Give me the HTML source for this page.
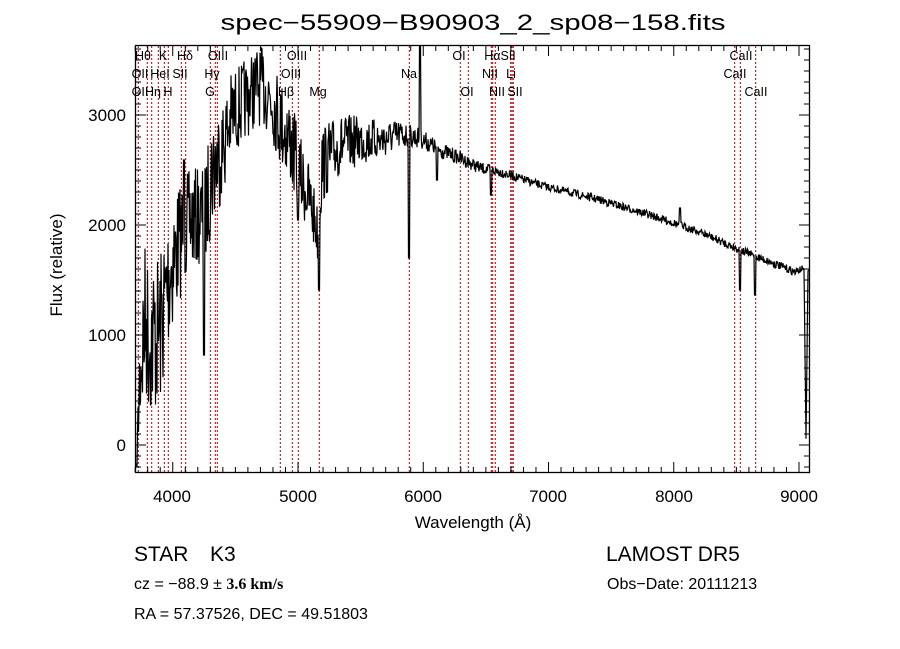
<!DOCTYPE html>
<html><head><meta charset="utf-8"><style>
html,body{margin:0;padding:0;background:#fff;}
svg{display:block;}
text{font-family:"Liberation Sans",sans-serif;fill:#000;}
</style></head><body>
<svg id="s" width="900" height="649" viewBox="0 0 900 649" xmlns="http://www.w3.org/2000/svg">
<rect width="900" height="649" fill="#fff"/>
<text x="473" y="30" font-size="22" text-anchor="middle" textLength="505" lengthAdjust="spacingAndGlyphs">spec−55909−B90903_2_sp08−158.fits</text>
<g id="red" stroke="#b00000" stroke-width="1" stroke-dasharray="2,2"></g>
<g id="lbl" font-size="12.5" text-anchor="middle"></g>
<path id="spec" fill="none" stroke="#000" stroke-width="1.2"/>
<rect x="135.5" y="45.5" width="674" height="427" fill="none" stroke="#000" stroke-width="1.3"/>
<g id="ticks" stroke="#000" stroke-width="1"></g>
<g font-size="17" text-anchor="middle">
<text x="172" y="502">4000</text><text x="298" y="502">5000</text><text x="423" y="502">6000</text>
<text x="548" y="502">7000</text><text x="674" y="502">8000</text><text x="799" y="502">9000</text>
</g>
<g font-size="17" text-anchor="end">
<text x="126" y="451">0</text><text x="126" y="341">1000</text><text x="126" y="231">2000</text><text x="126" y="121">3000</text>
</g>
<text x="473" y="528" font-size="17" text-anchor="middle">Wavelength (Å)</text>
<text transform="translate(62,265) rotate(-90)" font-size="17" text-anchor="middle">Flux (relative)</text>
<text x="134" y="561" font-size="21">STAR</text><text x="210" y="561" font-size="21">K3</text>
<text x="606" y="561" font-size="21">LAMOST DR5</text>
<text x="134" y="589" font-size="16">cz = −88.9 ± <tspan font-family="Liberation Serif" font-weight="bold">3.6 km/s</tspan></text>
<text x="607" y="589" font-size="16">Obs−Date: 20111213</text>
<text x="134" y="619" font-size="16">RA =  57.37526, DEC =  49.51803</text>
</svg>
<script>
var NS="http://www.w3.org/2000/svg";
function el(p,t,a,txt){var e=document.createElementNS(NS,t);for(var k in a)e.setAttribute(k,a[k]);if(txt)e.textContent=txt;document.getElementById(p).appendChild(e);}
var reds=[138.3,147.3,151.7,158.3,164.3,168.3,181.3,185.7,210.3,215.3,217.3,280.3,292.3,298.3,319.3,409.3,460.3,468.3,491.3,492.7,495.3,510.7,512,513.3,734.7,740.3,755.7];
reds.forEach(function(x){el("red","line",{x1:x,x2:x,y1:46,y2:472});});
var L=[["Hθ",143,60],["K",163,60],["Hδ",185,60],["OIII",218,60],["OIII",297,60],["OI",459,60],["HαSII",500,60],["CaII",741,60],
["OII",140,78],["HeI",160,78],["SII",180,78],["Hγ",212,78],["OIII",291,78],["Na",409,78],["NII",490,78],["Li",511,78],["CaII",735,78],
["OII",140,96],["Hη",153,96],["H",168,96],["G",210,96],["Hβ",286,96],["Mg",318,96],["OI",467,96],["NII",497,96],["SII",515,96],["CaII",756,96]];
L.forEach(function(l){el("lbl","text",{x:l[1],y:l[2]},l[0]);});
var d="";
for(var w=3700;w<=9080;w+=100){var x=298+(w-5000)*0.12525;var len=(w%1000==0)?10:5;d+="M"+x+" 472v-"+len+"M"+x+" 46v"+len;}
for(var f=-200;f<=3600;f+=100){var y=445-f*0.11;var len=(f%1000==0)?10:5;d+="M136 "+y+"h"+len+"M809 "+y+"h-"+len;}
el("ticks","path",{d:d});
var seed=7;function rnd(){seed=(seed*16807)%2147483647;return seed/2147483647;}
var base=[[137,455,15],[140,370,70],[145,320,80],[150,340,80],[160,330,80],[170,270,70],[180,240,60],[190,220,50],[205,215,50],[212,170,60],[222,150,50],[232,115,45],[245,100,40],[258,85,40],[270,95,40],[280,120,45],[290,140,45],[300,175,40],[310,200,35],[318,235,30],[322,165,40],[340,145,30],[360,140,25],[380,140,20],[400,135,15],[420,138,10],[440,150,8],[460,158,7],[480,168,6],[500,172,5],[540,185,4],[600,200,4],[650,215,4],[700,232,4],[740,250,4],[770,262,4],[795,272,4],[804,268,3],[806,440,2],[808,270,2]];
function interp(x){for(var i=0;i<base.length-1;i++){if(x<=base[i+1][0]){var a=base[i],b=base[i+1],t=(x-a[0])/(b[0]-a[0]);return [a[1]+t*(b[1]-a[1]),a[2]+t*(b[2]-a[2])];}}return [270,2];}
var dips={409:258,740:290,755:295,319:290,298:220,184:160,491:195,437:180,204:355};
var p="";
for(var x=136.5;x<=808.5;x+=0.5){var v=interp(x);var y=v[0]+(rnd()-0.5)*2*v[1];
for(var k in dips){if(Math.abs(x-k)<0.6)y=dips[k];}
if(Math.abs(x-420)<0.6)y=46;
if(Math.abs(x-680)<0.6)y=208;
y=Math.max(46,Math.min(471,y));
p+=(p?"L":"M")+x.toFixed(1)+" "+y.toFixed(1);}
document.getElementById("spec").setAttribute("d",p);
</script>
</body></html>
